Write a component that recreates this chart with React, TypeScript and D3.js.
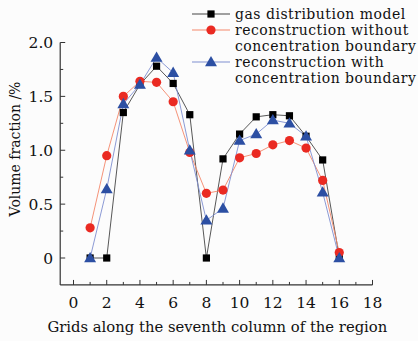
import * as d3 from "d3";
import React from "react";

const grids = [1, 2, 3, 4, 5, 6, 7, 8, 9, 10, 11, 12, 13, 14, 15, 16];
const gasModel = [0, 0, 1.35, 1.61, 1.78, 1.62, 1.33, 0, 0.92, 1.15, 1.31, 1.33, 1.32, 1.13, 0.91, 0.01];
const withoutBoundary = [0.28, 0.95, 1.5, 1.64, 1.63, 1.45, 0.98, 0.6, 0.63, 0.93, 0.97, 1.05, 1.09, 1.02, 0.72, 0.05];
const withBoundary = [0, 0.64, 1.43, 1.61, 1.86, 1.72, 1.0, 0.35, 0.46, 1.09, 1.15, 1.28, 1.25, 1.13, 0.61, 0];
const xTicks = [0, 2, 4, 6, 8, 10, 12, 14, 16, 18];
const yTicks = [0, 0.5, 1.0, 1.5, 2.0];

const W = 418, H = 341;
const font = "'DejaVu Serif', serif";

export default function App() {
    const x = d3.scaleLinear().domain([0, 18]).range([73.5, 372.5]);
    const y = d3.scaleLinear().domain([0, 2]).range([258, 42.5]);
    const x0 = x(-0.8), yb = y(-0.25), yt = y(2);
    const line = d3.line<[number, number]>().x(d => x(d[0])).y(d => y(d[1]));
    const pts = (vals: number[]) => grids.map((g, i) => [g, vals[i]] as [number, number]);
    const tri = d3.symbol(d3.symbolTriangle, 62)()!;

    const series = [
        { name: "gas", vals: gasModel, line: "#444", mark: "sq" },
        { name: "red", vals: withoutBoundary, line: "#f4876a", mark: "ci" },
        { name: "blue", vals: withBoundary, line: "#7f8fd0", mark: "tr" },
    ];

    const marker = (kind: string, cx: number, cy: number, k: string) => {
        if (kind === "sq") return <rect key={k} x={cx - 3.6} y={cy - 3.6} width={7.2} height={7.2} fill="#000" />;
        if (kind === "ci") return <circle key={k} cx={cx} cy={cy} r={4.6} fill="#ea2a22" />;
        return <path key={k} d={tri} transform={`translate(${cx},${cy + 0.8})`} fill="#2c4fa3" />;
    };

    const minorX = d3.range(1, 18, 2);
    const minorY = [0.25, 0.75, 1.25, 1.75];

    const legend = [
        { mark: "sq", line: "#444", texts: ["gas distribution model"] },
        { mark: "ci", line: "#f4876a", texts: ["reconstruction without", "concentration boundary"] },
        { mark: "tr", line: "#7f8fd0", texts: ["reconstruction with", "concentration boundary"] },
    ];
    let row = 0;

    return (
        <svg width={W} height={H} style={{ position: "absolute", left: 0, top: 0, background: "#fcfcfc" }}>
            {/* axes */}
            <line x1={x0} x2={x0} y1={yt} y2={yb} stroke="#333" strokeWidth={1.2} />
            <line x1={x0} x2={x(18)} y1={yb} y2={yb} stroke="#333" strokeWidth={1.2} />
            {xTicks.map(t => (
                <g key={"xt" + t}>
                    <line x1={x(t)} x2={x(t)} y1={yb} y2={yb - 5} stroke="#333" />
                    <text x={x(t)} y={yb + 23} textAnchor="middle" fontFamily={font} fontSize={15.5} fill="#111">{t}</text>
                </g>
            ))}
            {minorX.map(t => <line key={"xm" + t} x1={x(t)} x2={x(t)} y1={yb} y2={yb - 3} stroke="#333" />)}
            {yTicks.map(t => (
                <g key={"yt" + t}>
                    <line x1={x0} x2={x0 + 5} y1={y(t)} y2={y(t)} stroke="#333" />
                    <text x={x0 - 7} y={y(t) + 5.5} textAnchor="end" fontFamily={font} fontSize={15.5} fill="#111">{t === 0 ? "0" : t.toFixed(1)}</text>
                </g>
            ))}
            {minorY.map(t => <line key={"ym" + t} x1={x0} x2={x0 + 3} y1={y(t)} y2={y(t)} stroke="#333" />)}
            <text transform={`translate(20,149) rotate(-90)`} textAnchor="middle" fontFamily={font} fontSize={14} fill="#111">Volume fraction /%</text>
            <text x={(x0 + x(18)) / 2 + 1} y={332} textAnchor="middle" fontFamily={font} fontSize={14.8} fill="#111">Grids along the seventh column of the region</text>

            {/* series */}
            {series.map(s => (
                <path key={"l" + s.name} d={line(pts(s.vals))!} fill="none" stroke={s.line} strokeWidth={0.9} />
            ))}
            {series.map(s => (
                <g key={"m" + s.name}>
                    {pts(s.vals).map((p, i) => marker(s.mark, x(p[0]), y(p[1]), s.name + i))}
                </g>
            ))}

            {/* legend */}
            {legend.map((l, i) => {
                const ly = 14 + row * 16;
                const g = (
                    <g key={"lg" + i}>
                        <line x1={192} x2={230} y1={ly} y2={ly} stroke={l.line} strokeWidth={1} />
                        {marker(l.mark, 211, ly, "lm" + i)}
                        {l.texts.map((t, j) => (
                            <text key={j} x={235} y={ly + 5 + j * 16} fontFamily={font} fontSize={14} letterSpacing={0.5} fill="#111">{t}</text>
                        ))}
                    </g>
                );
                row += l.texts.length;
                return g;
            })}
        </svg>
    );
}
